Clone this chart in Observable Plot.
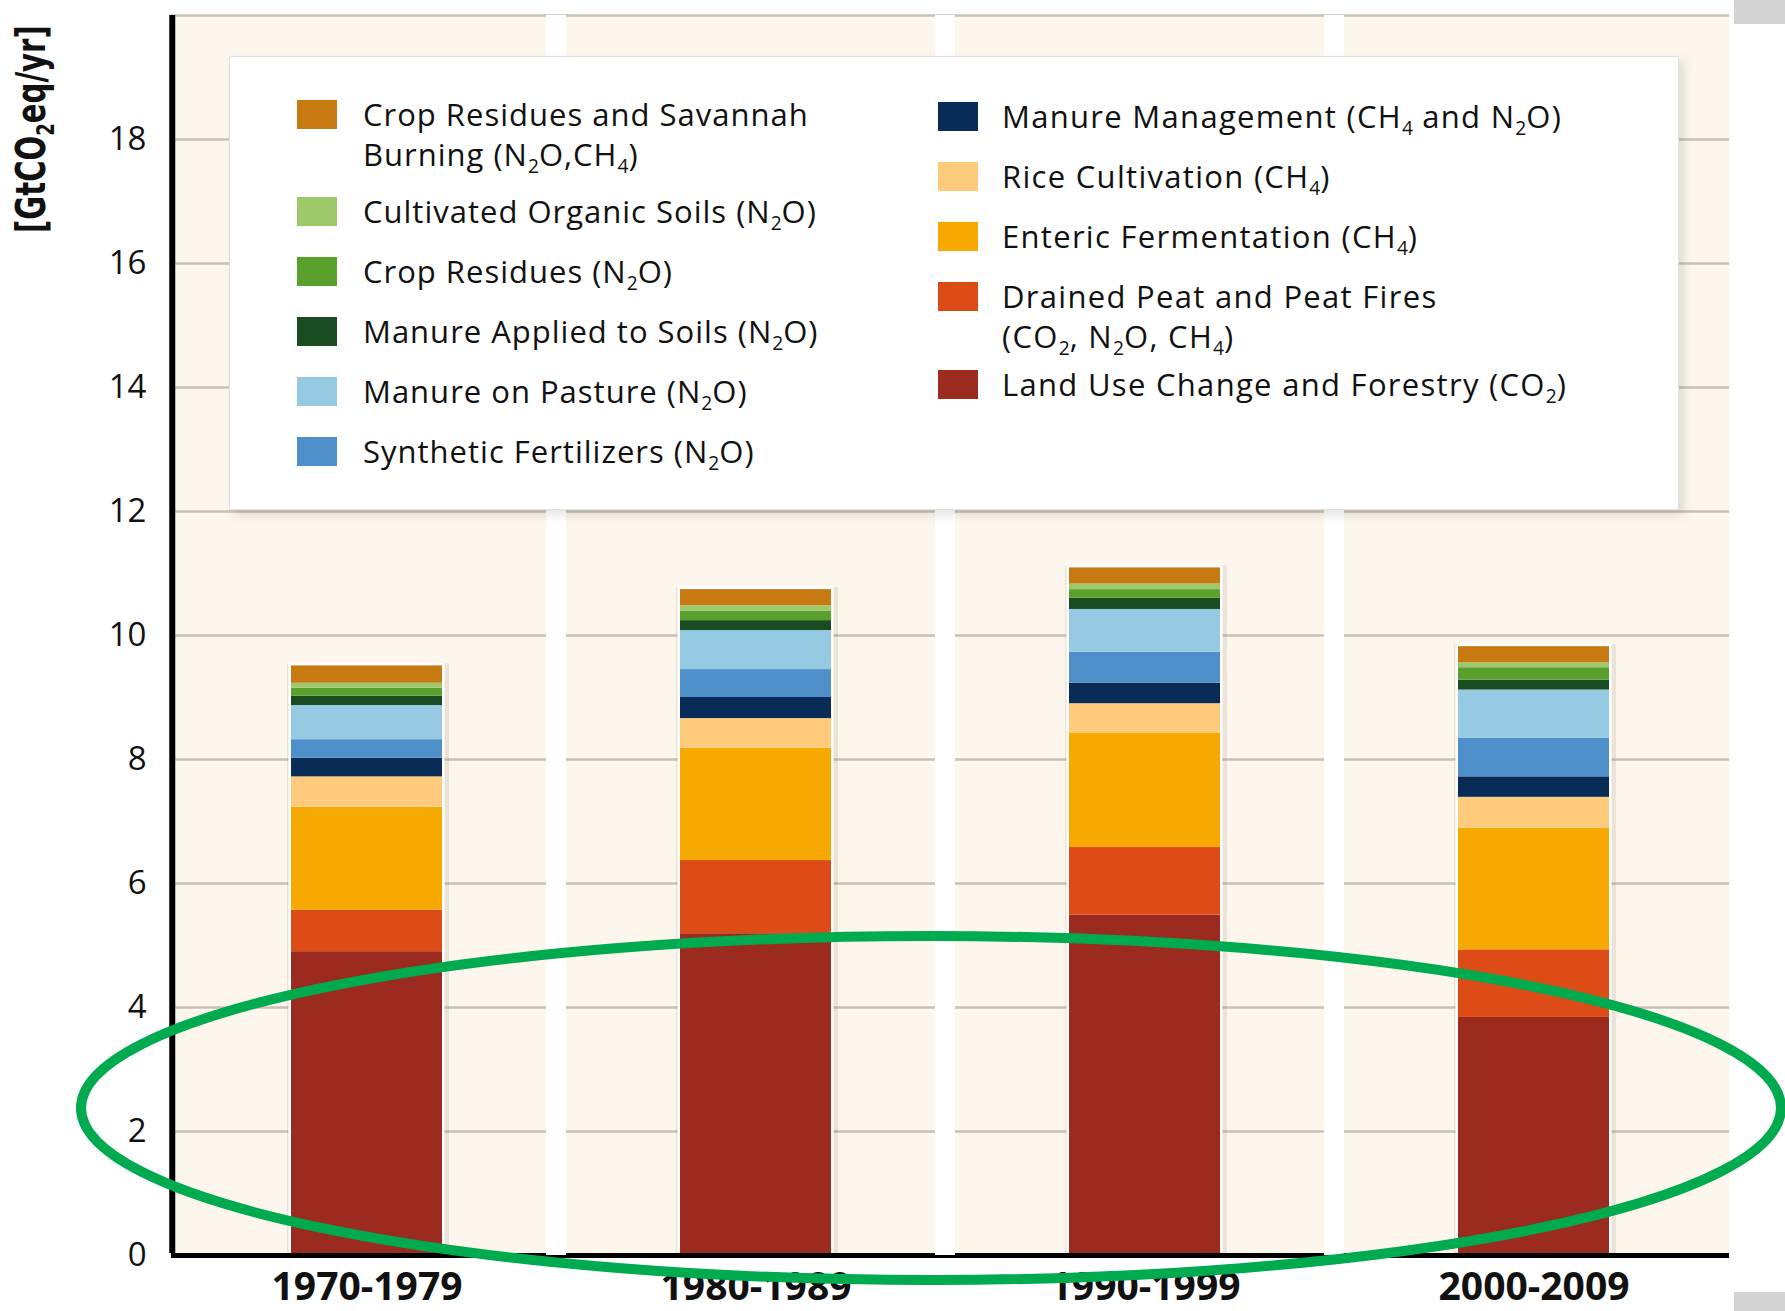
<!DOCTYPE html>
<html><head><meta charset="utf-8">
<script src="https://cdn.jsdelivr.net/npm/d3@7"></script>
<script src="https://cdn.jsdelivr.net/npm/@observablehq/plot@0.6"></script>
<style>
html,body{margin:0;padding:0;background:#fff;}
#wrap{position:relative;width:1785px;height:1311px;overflow:hidden;font-family:"Open Sans",sans-serif;color:#111;}
#chart svg{display:block;}
.legend{position:absolute;left:229px;top:56px;width:1450px;height:454px;background:#fff;box-sizing:border-box;border:1px solid #e3e1de;box-shadow:5px 5px 9px rgba(90,80,70,0.16);}
.item{position:absolute;display:flex;align-items:flex-start;}
.sw{width:40px;height:29px;flex:none;margin-top:5.5px;}
.txt{font-size:31px;line-height:40px;letter-spacing:1px;white-space:nowrap;}
sub{font-size:0.62em;vertical-align:-0.38em;line-height:0;letter-spacing:0;}
.ylab{position:absolute;left:6px;top:233px;transform-origin:0 0;font-family:"Liberation Sans Narrow","DejaVu Sans Condensed","Open Sans",sans-serif;font-weight:bold;font-size:40px;line-height:50px;white-space:nowrap;}
.grey{position:absolute;background:#d3d3d3;}
#ann{position:absolute;left:0;top:0;pointer-events:none;}
</style>
</head><body>
<div id="wrap">
  <div id="chart"></div>
</div>
<script>
// ---- data ----
const decades = ["1970-1979", "1980-1989", "1990-1999", "2000-2009"];
const categories = [
  "Land Use Change and Forestry",
  "Drained Peat and Peat Fires",
  "Enteric Fermentation",
  "Rice Cultivation",
  "Manure Management",
  "Synthetic Fertilizers",
  "Manure on Pasture",
  "Manure Applied to Soils",
  "Crop Residues",
  "Cultivated Organic Soils",
  "Crop Residues and Savannah Burning"
];
const colors = ["#9b2a1f", "#dd4b16", "#f6a900", "#fdcb7b", "#082c55", "#4f8fc9", "#96cae2", "#1a4c22", "#5aa02c", "#9dc96b", "#c77a12"];
const legendLabels = [
  "Land Use Change and Forestry (CO2)",
  "Drained Peat and Peat Fires\n(CO2, N2O, CH4)",
  "Enteric Fermentation (CH4)",
  "Rice Cultivation (CH4)",
  "Manure Management (CH4 and N2O)",
  "Synthetic Fertilizers (N2O)",
  "Manure on Pasture (N2O)",
  "Manure Applied to Soils (N2O)",
  "Crop Residues (N2O)",
  "Cultivated Organic Soils (N2O)",
  "Crop Residues and Savannah\nBurning (N2O,CH4)"
];
const landUse       = [4.90, 5.19, 5.49, 3.84];
const drainedPeat   = [0.67, 1.18, 1.09, 1.09];
const enteric       = [1.66, 1.81, 1.84, 1.96];
const rice          = [0.49, 0.48, 0.48, 0.50];
const manureMgmt    = [0.30, 0.34, 0.33, 0.33];
const synthetic     = [0.30, 0.45, 0.50, 0.62];
const pasture       = [0.55, 0.63, 0.69, 0.78];
const manureApplied = [0.15, 0.16, 0.18, 0.16];
const cropResidues  = [0.13, 0.15, 0.14, 0.20];
const cultivated    = [0.08, 0.09, 0.09, 0.08];
const savannah      = [0.28, 0.26, 0.26, 0.26];
const yTicks = [0, 2, 4, 6, 8, 10, 12, 14, 16, 18];
const gridTicks = [2, 4, 6, 8, 10, 12, 14, 16, 18, 20];
const yLabel = "[GtCO2eq/yr]";

// ---- build ----
const seriesValues = [landUse, drainedPeat, enteric, rice, manureMgmt, synthetic, pasture, manureApplied, cropResidues, cultivated, savannah];
const rows = [];
categories.forEach((c, i) => decades.forEach((d, j) => rows.push({decade: d, category: c, value: seriesValues[i][j]})));
const totals = decades.map((d, j) => ({decade: d, total: d3.sum(seriesValues, s => s[j])}));

const W = 1785, H = 1311, ML = 171, MR = 56, MT = 15, MB = 56;
const step = (W - ML - MR) / decades.length;
const barInset = 119;

const chart = Plot.plot({
  width: W, height: H,
  marginLeft: ML, marginRight: MR, marginTop: MT, marginBottom: MB,
  style: {fontFamily: '"Open Sans", sans-serif', background: "transparent", color: "#111", overflow: "visible"},
  x: {domain: decades, padding: 0, axis: null},
  y: {domain: [0, 20], axis: null},
  color: {domain: categories, range: colors},
  marks: [
    Plot.frame({fill: "#fdf6ec", stroke: "none"}),
    Plot.ruleY(gridTicks, {stroke: "#c9c1b7", strokeWidth: 2.5}),
    Plot.barY(totals, {x: "decade", y: "total", fill: "#7d7060", fillOpacity: 0.14, insetLeft: barInset - 4, insetRight: barInset - 7, dy: -2}),
    Plot.barY(totals, {x: "decade", y: "total", fill: "#fff", insetLeft: barInset - 2.5, insetRight: barInset - 2.5, dy: -3}),
    Plot.barY(rows, {x: "decade", y: "value", fill: "category", insetLeft: barInset, insetRight: barInset}),
    Plot.ruleY([0], {stroke: "#000", strokeWidth: 5}),
    Plot.ruleX(decades.slice(1), {x: d => d, dx: -200, stroke: "#fff", strokeWidth: 20}),
    Plot.ruleX(decades.slice(0, 1), {x: d => d, dx: -step / 2, stroke: "#000", strokeWidth: 6, y1: 0, y2: 20, insetTop: -2}),
    Plot.axisY(yTicks, {tickSize: 0, tickPadding: 25, fontSize: 33, tickFormat: d3.format("d"), label: null}),
    Plot.axisX({tickSize: 0, tickPadding: 17, fontSize: 39, fontWeight: "bold", label: null})
  ]
});
document.getElementById("chart").appendChild(chart);

const wrap = document.getElementById("wrap");
const fmt = s => s.replace(/([A-Z])(\d)/g, "$1<sub>$2</sub>").replace(/\n/g, "<br>");

// legend (top of stack first): left column 6, right column 5
const legend = document.createElement("div");
legend.className = "legend";
wrap.appendChild(legend);
const order = categories.map((c, i) => i).reverse();
const boxL = 229, boxT = 56;
order.forEach((ci, k) => {
  const right = k >= 6;
  const i = right ? k - 6 : k;
  const centerY = right ? 116 + i * 60 + (i >= 4 ? 28 : 0) : 114 + i * 60 + (i >= 1 ? 37 : 0);
  const swX = right ? 938 : 297;
  const gap = right ? 24 : 26;
  const item = document.createElement("div");
  item.className = "item";
  item.style.left = (swX - boxL - 1) + "px";
  item.style.top = (centerY - 20 - boxT - 1) + "px";
  item.innerHTML = `<div class="sw" style="background:${colors[ci]}"></div><div class="txt" style="margin-left:${gap}px;letter-spacing:${right ? 1.3 : 1}px">${fmt(legendLabels[ci])}</div>`;
  legend.appendChild(item);
});

// y label, squeezed along its length to the reference's span
const yl = document.createElement("div");
yl.className = "ylab";
yl.innerHTML = fmt(yLabel);
wrap.appendChild(yl);
const k = 208 / yl.offsetWidth;
yl.style.transform = `rotate(-90deg) scaleX(${k})`;

// grey corner blocks
[[1734, 0, 51, 24], [1734, 1292, 51, 19]].forEach(([l, t, w, h]) => {
  const g = document.createElement("div");
  g.className = "grey";
  Object.assign(g.style, {left: l + "px", top: t + "px", width: w + "px", height: h + "px"});
  wrap.appendChild(g);
});

// green annotation ellipse
const ns = "http://www.w3.org/2000/svg";
const ann = document.createElementNS(ns, "svg");
ann.setAttribute("id", "ann");
ann.setAttribute("width", W);
ann.setAttribute("height", H);
const el = document.createElementNS(ns, "ellipse");
el.setAttribute("cx", 931); el.setAttribute("cy", 1108);
el.setAttribute("rx", 850); el.setAttribute("ry", 172);
el.setAttribute("fill", "none"); el.setAttribute("stroke", "#00aa4f"); el.setAttribute("stroke-width", 10);
ann.appendChild(el);
wrap.appendChild(ann);
</script>
</body></html>
